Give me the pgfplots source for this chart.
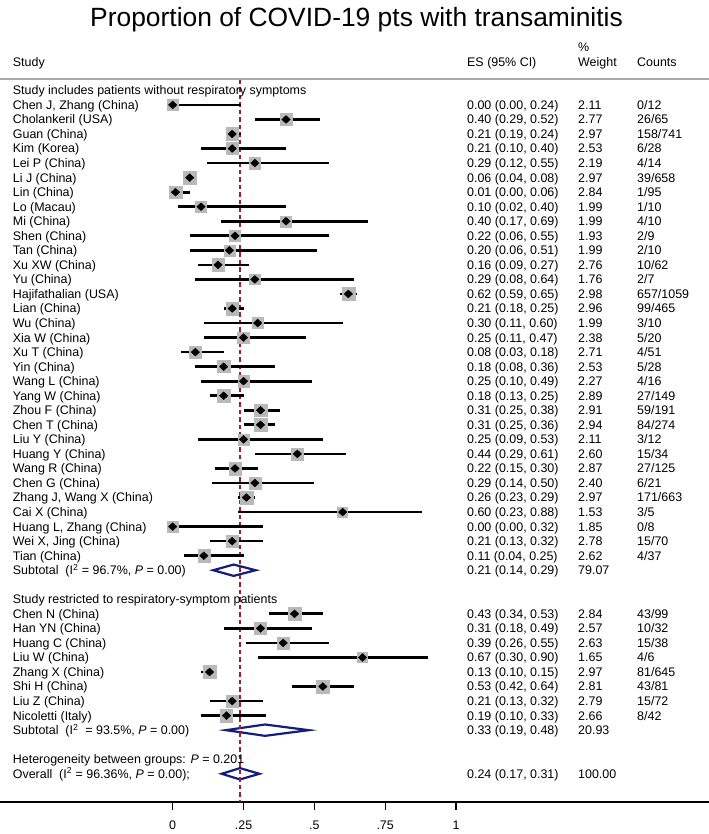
\documentclass[border=0pt]{standalone}
\usepackage{fontspec}
\setmainfont{Liberation Sans}
\usepackage{pgfplots}
\usepackage{pgfplotstable}
\pgfplotsset{compat=1.18}
\definecolor{sqgray}{RGB}{185,185,185}
\definecolor{refred}{RGB}{160,30,50}
\definecolor{dnavy}{RGB}{20,30,120}
\definecolor{rulegray}{RGB}{170,170,170}
\newcommand{\fs}{\fontsize{12.5}{15}\selectfont}
\tikzset{txt/.style={anchor=west, font=\fs, inner sep=0pt, text height=8.9bp, text depth=0pt}}

\pgfplotstableread[col sep=semicolon]{
r;es;lo;hi;w;name;est;cnt
1;0.00;0.00;0.24;2.11;Chen J, Zhang (China);0.00 (0.00, 0.24);0/12
2;0.40;0.29;0.52;2.77;Cholankeril (USA);0.40 (0.29, 0.52);26/65
3;0.21;0.19;0.24;2.97;Guan (China);0.21 (0.19, 0.24);158/741
4;0.21;0.10;0.40;2.53;Kim (Korea);0.21 (0.10, 0.40);6/28
5;0.29;0.12;0.55;2.19;Lei P (China);0.29 (0.12, 0.55);4/14
6;0.06;0.04;0.08;2.97;Li J (China);0.06 (0.04, 0.08);39/658
7;0.01;0.00;0.06;2.84;Lin (China);0.01 (0.00, 0.06);1/95
8;0.10;0.02;0.40;1.99;Lo (Macau);0.10 (0.02, 0.40);1/10
9;0.40;0.17;0.69;1.99;Mi (China);0.40 (0.17, 0.69);4/10
10;0.22;0.06;0.55;1.93;Shen (China);0.22 (0.06, 0.55);2/9
11;0.20;0.06;0.51;1.99;Tan (China);0.20 (0.06, 0.51);2/10
12;0.16;0.09;0.27;2.76;Xu XW (China);0.16 (0.09, 0.27);10/62
13;0.29;0.08;0.64;1.76;Yu (China);0.29 (0.08, 0.64);2/7
14;0.62;0.59;0.65;2.98;Hajifathalian (USA);0.62 (0.59, 0.65);657/1059
15;0.21;0.18;0.25;2.96;Lian (China);0.21 (0.18, 0.25);99/465
16;0.30;0.11;0.60;1.99;Wu (China);0.30 (0.11, 0.60);3/10
17;0.25;0.11;0.47;2.38;Xia W (China);0.25 (0.11, 0.47);5/20
18;0.08;0.03;0.18;2.71;Xu T (China);0.08 (0.03, 0.18);4/51
19;0.18;0.08;0.36;2.53;Yin (China);0.18 (0.08, 0.36);5/28
20;0.25;0.10;0.49;2.27;Wang L (China);0.25 (0.10, 0.49);4/16
21;0.18;0.13;0.25;2.89;Yang W (China);0.18 (0.13, 0.25);27/149
22;0.31;0.25;0.38;2.91;Zhou F (China);0.31 (0.25, 0.38);59/191
23;0.31;0.25;0.36;2.94;Chen T (China);0.31 (0.25, 0.36);84/274
24;0.25;0.09;0.53;2.11;Liu Y (China);0.25 (0.09, 0.53);3/12
25;0.44;0.29;0.61;2.60;Huang Y (China);0.44 (0.29, 0.61);15/34
26;0.22;0.15;0.30;2.87;Wang R (China);0.22 (0.15, 0.30);27/125
27;0.29;0.14;0.50;2.40;Chen G (China);0.29 (0.14, 0.50);6/21
28;0.26;0.23;0.29;2.97;Zhang J, Wang X (China);0.26 (0.23, 0.29);171/663
29;0.60;0.23;0.88;1.53;Cai X (China);0.60 (0.23, 0.88);3/5
30;0.00;0.00;0.32;1.85;Huang L, Zhang (China);0.00 (0.00, 0.32);0/8
31;0.21;0.13;0.32;2.78;Wei X, Jing (China);0.21 (0.13, 0.32);15/70
32;0.11;0.04;0.25;2.62;Tian (China);0.11 (0.04, 0.25);4/37
36;0.43;0.34;0.53;2.84;Chen N (China);0.43 (0.34, 0.53);43/99
37;0.31;0.18;0.49;2.57;Han YN (China);0.31 (0.18, 0.49);10/32
38;0.39;0.26;0.55;2.63;Huang C (China);0.39 (0.26, 0.55);15/38
39;0.67;0.30;0.90;1.65;Liu W (China);0.67 (0.30, 0.90);4/6
40;0.13;0.10;0.15;2.97;Zhang X (China);0.13 (0.10, 0.15);81/645
41;0.53;0.42;0.64;2.81;Shi H (China);0.53 (0.42, 0.64);43/81
42;0.21;0.13;0.32;2.79;Liu Z (China);0.21 (0.13, 0.32);15/72
43;0.19;0.10;0.33;2.66;Nicoletti (Italy);0.19 (0.10, 0.33);8/42
}\studies

\begin{document}
\begin{tikzpicture}
\useasboundingbox (0,-32bp) rectangle (709bp,802bp);
\begin{axis}[
  scale only axis, width=709bp, height=802bp,
  xmin=-0.6096, xmax=1.8931, ymin=-48.94, ymax=6.217,
  axis x line*=bottom, axis y line=none,
  xtick={0,0.25,0.5,0.75,1}, xticklabels={0,.25,.5,.75,1},
  ytick=\empty,
  tick align=outside, major tick length=8bp,
  x axis line style={line width=1.3bp, -},
  tick style={line width=1.3bp, black},
  xticklabel style={font=\fs, yshift=-7bp},
  clip=false,
  textcol/.style={only marks, mark=*, mark size=0pt, mark options={draw=none, fill=none},
    point meta=explicit symbolic, nodes near coords,
    nodes near coords align={anchor=west},
    every node near coord/.append style={txt, black}},
]
% weight boxes
\addplot[scatter, only marks, mark=square*, point meta=\thisrow{w},
  scatter/use mapped color={draw=sqgray, fill=sqgray},
  visualization depends on={\thisrow{w} \as \wt},
  scatter/@pre marker code/.append style={/tikz/mark size={1.5+2.85*sqrt(\wt)}}]
  table[x=es, y expr=-\thisrow{r}] {\studies};
% subtotal and overall diamonds
\addplot[dnavy, line width=2.2bp, line join=miter] coordinates {(0.143,-33) (0.215,-32.61) (0.293,-33) (0.215,-33.39)} -- cycle;
\addplot[dnavy, line width=2.2bp, line join=miter] coordinates {(0.188,-44) (0.326,-43.61) (0.480,-44) (0.326,-44.39)} -- cycle;
\addplot[dnavy, line width=2.2bp, line join=miter] coordinates {(0.173,-47) (0.2376,-46.61) (0.306,-47) (0.2376,-47.39)} -- cycle;
% overall reference line
\addplot[refred, line width=1.3bp, dash pattern=on 4.5bp off 3bp] coordinates {(0.2376,0.715) (0.2376,-48.94)};
% CI lines and point estimates
\addplot[only marks, black, mark=diamond*, mark size=3.9bp, mark options={xscale=1.45, black},
  error bars/.cd, x dir=both, x explicit, error mark=none,
  error bar style={line width=2.7bp, black}]
  table[x=es, y expr=-\thisrow{r},
        x error plus expr=\thisrow{hi}-\thisrow{es},
        x error minus expr=\thisrow{es}-\thisrow{lo}] {\studies};
% text columns
\addplot[textcol] table[x expr=-0.5648, y expr=-\thisrow{r}, meta=name] {\studies};
\addplot[textcol] table[x expr=1.0388, y expr=-\thisrow{r}, meta=est] {\studies};
\addplot[textcol] table[x expr=1.4307, y expr=-\thisrow{r}, meta=w] {\studies};
\addplot[textcol] table[x expr=1.6389, y expr=-\thisrow{r}, meta=cnt] {\studies};
% headings and summary rows
\node[font=\fontsize{26.5}{30}\selectfont, inner sep=0pt] at (axis cs:0.6488,4.84) {Proportion of COVID-19 pts with transaminitis};
\node[txt] at (axis cs:-0.5648,1.974) {Study};
\node[txt] at (axis cs:1.0388,1.974) {ES (95\% CI)};
\node[txt] at (axis cs:1.4307,2.985) {\%};
\node[txt] at (axis cs:1.4307,1.974) {Weight};
\node[txt] at (axis cs:1.6389,1.974) {Counts};
\draw[rulegray, line width=1.5bp] (axis cs:-0.6096,0.784) -- (axis cs:1.8931,0.784);
\node[txt] at (axis cs:-0.5648,0) {Study includes patients without respiratory symptoms};
\node[txt] at (axis cs:-0.5648,-33) {Subtotal\ \ (I\textsuperscript{2} = 96.7\%, \textit{P} = 0.00)};
\node[txt] at (axis cs:1.0388,-33) {0.21 (0.14, 0.29)};
\node[txt] at (axis cs:1.4307,-33) {79.07};
\node[txt] at (axis cs:-0.5648,-35) {Study restricted to respiratory-symptom patients};
\node[txt] at (axis cs:-0.5648,-44) {Subtotal\ \ (I\textsuperscript{2}\ \ = 93.5\%, \textit{P} = 0.00)};
\node[txt] at (axis cs:1.0388,-44) {0.33 (0.19, 0.48)};
\node[txt] at (axis cs:1.4307,-44) {20.93};
\node[txt] at (axis cs:-0.5648,-46) {Heterogeneity between groups: \textit{P} = 0.201};
\node[txt] at (axis cs:-0.5648,-47) {Overall\ \ (I\textsuperscript{2} = 96.36\%, \textit{P} = 0.00);};
\node[txt] at (axis cs:1.0388,-47) {0.24 (0.17, 0.31)};
\node[txt] at (axis cs:1.4307,-47) {100.00};
\end{axis}
\end{tikzpicture}
\end{document}
